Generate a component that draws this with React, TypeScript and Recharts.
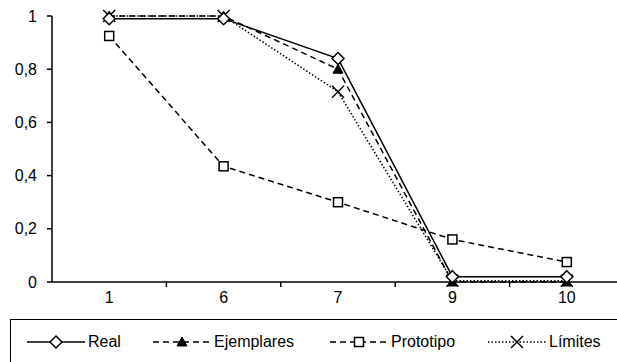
import { LineChart, Line, XAxis, YAxis } from "recharts"

const categories = ["1", "6", "7", "9", "10"]
const real = [0.99, 0.99, 0.84, 0.02, 0.02]
const ejemplares = [1, 1, 0.8, 0, 0]
const prototipo = [0.925, 0.435, 0.3, 0.16, 0.075]
const limites = [1, 1, 0.715, 0.005, 0.005]
const yTicks = [0, 0.2, 0.4, 0.6, 0.8, 1]

const data = categories.map((c, i) => ({
	name: c,
	real: real[i],
	ejemplares: ejemplares[i],
	prototipo: prototipo[i],
	limites: limites[i],
}))

const FONT = "'Liberation Sans', Arial, sans-serif"

type Shape = "diamond" | "triangle" | "square" | "cross"

function Marker({ shape, cx, cy }: { shape: Shape; cx: number; cy: number }) {
	if (shape === "diamond")
		return (
			<polygon
				points={`${cx},${cy - 6} ${cx + 6},${cy} ${cx},${cy + 6} ${cx - 6},${cy}`}
				fill="#fff"
				stroke="#000"
				strokeWidth={1.5}
			/>
		)
	if (shape === "triangle")
		return (
			<polygon
				points={`${cx},${cy - 5} ${cx + 5},${cy + 4} ${cx - 5},${cy + 4}`}
				fill="#000"
				stroke="#000"
			/>
		)
	if (shape === "square")
		return <rect x={cx - 4.5} y={cy - 4.5} width={9} height={9} fill="#fff" stroke="#000" strokeWidth={1.5} />
	return (
		<g stroke="#000" strokeWidth={1.5}>
			<line x1={cx - 6} y1={cy - 6} x2={cx + 6} y2={cy + 6} />
			<line x1={cx - 6} y1={cy + 6} x2={cx + 6} y2={cy - 6} />
		</g>
	)
}

const dot = (shape: Shape) => (p: any) => <Marker key={p.index} shape={shape} cx={p.cx} cy={p.cy} />

function XTick(props: any) {
	const { x, y, payload, index, visibleTicksCount, width } = props
	const band = (Number(width) || 572.5) / visibleTicksCount
	const axisY = y - 10
	return (
		<g>
			<text x={x} y={y} dy="0.71em" textAnchor="middle" fill="#000" fontSize={16} fontFamily={FONT}>
				{payload.value}
			</text>
			{index < visibleTicksCount - 1 && (
				<line x1={x + band / 2} x2={x + band / 2} y1={axisY} y2={axisY + 5} stroke="#000" strokeWidth={1.5} />
			)}
		</g>
	)
}

const series = [
	{ key: "prototipo", label: "Prototipo", shape: "square" as Shape, dash: "6 4" },
	{ key: "limites", label: "Límites", shape: "cross" as Shape, dash: "1.5 2" },
	{ key: "ejemplares", label: "Ejemplares", shape: "triangle" as Shape, dash: "6 4" },
	{ key: "real", label: "Real", shape: "diamond" as Shape, dash: undefined },
]

const legendItems = [
	{ label: "Real", shape: "diamond" as Shape, dash: undefined, left: 27 },
	{ label: "Ejemplares", shape: "triangle" as Shape, dash: "6 4", left: 153 },
	{ label: "Prototipo", shape: "square" as Shape, dash: "6 4", left: 330 },
	{ label: "Límites", shape: "cross" as Shape, dash: "1.5 2", left: 488 },
]

export default function App() {
	return (
		<div style={{ position: "absolute", left: 0, top: 0, width: 617, height: 362, overflow: "hidden", background: "#fff" }}>
			<LineChart width={640} height={320} data={data} margin={{ top: 16, right: 16, left: 0, bottom: 0 }}>
				<XAxis
					dataKey="name"
					scale="band"
					height={38}
					tickLine={false}
					tickSize={5}
					tickMargin={5}
					axisLine={{ stroke: "#000", strokeWidth: 1.5 }}
					tick={<XTick />}
					interval={0}
				/>
				<YAxis
					width={52}
					domain={[0, 1]}
					ticks={yTicks}
					tickSize={5}
					tickMargin={10}
					axisLine={{ stroke: "#000", strokeWidth: 1.5 }}
					tickLine={{ stroke: "#000", strokeWidth: 1.5 }}
					tick={{ fill: "#000", fontSize: 16, fontFamily: FONT }}
					tickFormatter={(v: number) => String(v).replace(".", ",")}
				/>
				{series.map((s) => (
					<Line
						key={s.key}
						dataKey={s.key}
						type="linear"
						stroke="#000"
						strokeWidth={1.5}
						strokeDasharray={s.dash}
						dot={dot(s.shape)}
						activeDot={false}
						isAnimationActive={false}
					/>
				))}
			</LineChart>
			<div
				style={{
					position: "absolute",
					left: 10,
					top: 319,
					width: 640,
					height: 60,
					border: "1.5px solid #000",
					boxSizing: "border-box",
				}}
			/>
			{legendItems.map((it) => (
				<div key={it.label} style={{ position: "absolute", left: it.left, top: 333, height: 18, display: "flex", alignItems: "center" }}>
					<svg width={58} height={16}>
						<line x1={0} x2={58} y1={8} y2={8} stroke="#000" strokeWidth={1.5} strokeDasharray={it.dash} />
						<Marker shape={it.shape} cx={29} cy={8} />
					</svg>
					<span style={{ fontFamily: FONT, fontSize: 16, color: "#000", marginLeft: 3, whiteSpace: "nowrap" }}>{it.label}</span>
				</div>
			))}
		</div>
	)
}
